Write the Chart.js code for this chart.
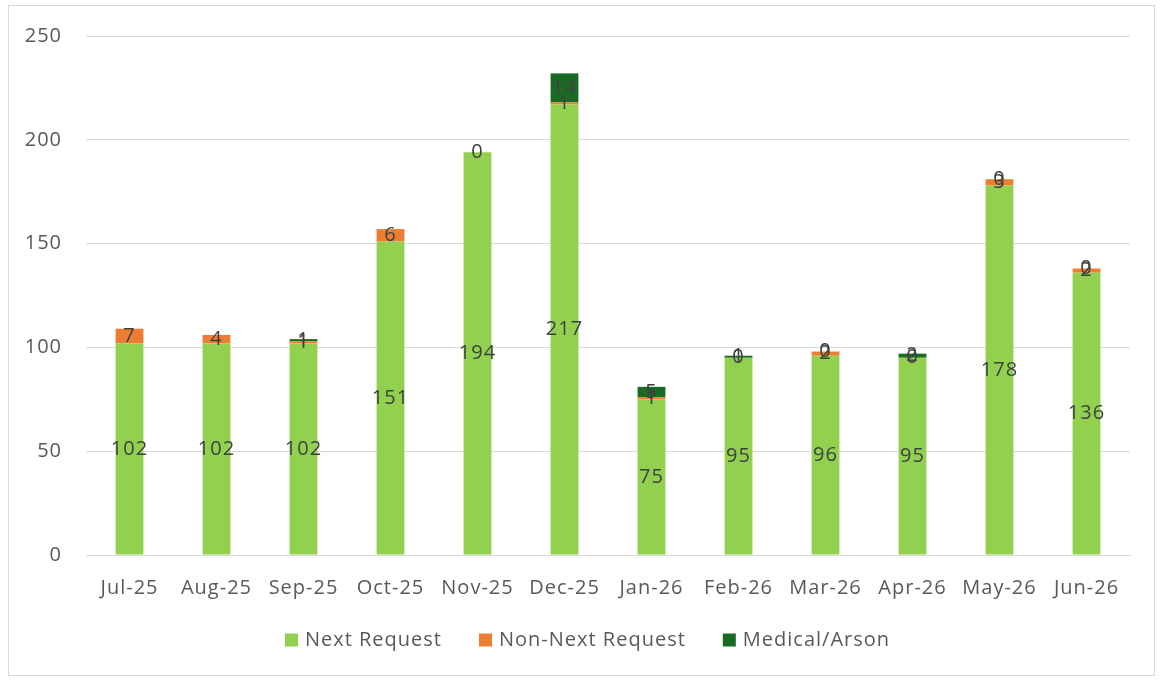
<!DOCTYPE html>
<html>
<head>
<meta charset="utf-8">
<script src="https://cdn.jsdelivr.net/npm/chart.js@4"></script>
<style>
  body { margin: 0; background: #fff; }
  #box { position: absolute; left: 8px; top: 5px; width: 1145px; height: 669px; border: 1px solid #d9d9d9; }
</style>
</head>
<body>
<div id="box"><canvas id="c" width="1145" height="669"></canvas></div>
<script>
const months = ['Jul-25', 'Aug-25', 'Sep-25', 'Oct-25', 'Nov-25', 'Dec-25', 'Jan-26', 'Feb-26', 'Mar-26', 'Apr-26', 'May-26', 'Jun-26'];
const nextRequest = [102, 102, 102, 151, 194, 217, 75, 95, 96, 95, 178, 136];
const nonNextRequest = [7, 4, 1, 6, 0, 1, 1, 0, 2, 0, 3, 2];
const medicalArson = [null, null, 1, null, null, 14, 5, 1, 0, 2, 0, 0];

const FONT = '"Open Sans", sans-serif';
const SPACING = '1px';

// slightly wider text, closer to the original font
const spacing = {
  id: 'spacing',
  beforeUpdate(chart) { chart.ctx.letterSpacing = SPACING; },
  beforeDraw(chart) { chart.ctx.letterSpacing = SPACING; }
};

// draw the value in the middle of each stacked segment
const valueLabels = {
  id: 'valueLabels',
  afterDatasetsDraw(chart) {
    const ctx = chart.ctx;
    ctx.save();
    ctx.letterSpacing = SPACING;
    ctx.font = '20px ' + FONT;
    ctx.fillStyle = '#404040';
    ctx.textAlign = 'center';
    ctx.textBaseline = 'middle';
    chart.data.datasets.forEach((ds, i) => {
      chart.getDatasetMeta(i).data.forEach((bar, j) => {
        if (ds.data[j] == null) return;
        ctx.fillText(ds.data[j], bar.x, (bar.y + bar.base) / 2);
      });
    });
    ctx.restore();
  }
};

// legend row under the axis
const legendBelow = {
  id: 'legendBelow',
  afterDraw(chart) {
    const ctx = chart.ctx;
    ctx.save();
    ctx.letterSpacing = SPACING;
    ctx.font = '20px ' + FONT;
    ctx.textBaseline = 'middle';
    const items = chart.data.datasets.map(ds => ({
      text: ds.label, color: ds.backgroundColor, w: 20 + ctx.measureText(ds.label).width
    }));
    const gap = 37;
    const total = items.reduce((a, it) => a + it.w, 0) + gap * (items.length - 1);
    let x = chart.width / 2 + 6 - total / 2;
    const y = chart.height - 35;
    items.forEach(it => {
      ctx.fillStyle = it.color;
      ctx.fillRect(x, y - 6.5, 13, 13);
      ctx.fillStyle = '#595959';
      ctx.fillText(it.text, x + 20, y);
      x += it.w + gap;
    });
    ctx.restore();
  }
};

new Chart(document.getElementById('c'), {
  type: 'bar',
  data: {
    labels: months,
    datasets: [
      { label: 'Next Request', data: nextRequest, backgroundColor: '#92D050' },
      { label: 'Non-Next Request', data: nonNextRequest, backgroundColor: '#ED7D31' },
      { label: 'Medical/Arson', data: medicalArson, backgroundColor: '#196B24' }
    ]
  },
  options: {
    responsive: false,
    animation: false,
    categoryPercentage: 1,
    barPercentage: 0.32,
    layout: { autoPadding: false, padding: { top: 30, right: 24, left: 0, bottom: 70 } },
    plugins: {
      legend: { display: false },
      tooltip: { enabled: false }
    },
    scales: {
      x: {
        stacked: true,
        grid: { display: false },
        border: { color: '#d9d9d9' },
        ticks: { color: '#595959', font: { family: FONT, size: 20 }, padding: 13, maxRotation: 0 },
        afterFit: s => { s.height = 50; }
      },
      y: {
        stacked: true,
        min: 0,
        max: 250,
        grid: { color: '#d9d9d9', drawTicks: false },
        border: { display: false },
        ticks: { stepSize: 50, color: '#595959', font: { family: FONT, size: 20 }, padding: 24 },
        afterFit: s => { s.width = 77; s.paddingTop = 0; s.paddingBottom = 0; }
      }
    }
  },
  plugins: [spacing, valueLabels, legendBelow]
});
</script>
</body>
</html>
